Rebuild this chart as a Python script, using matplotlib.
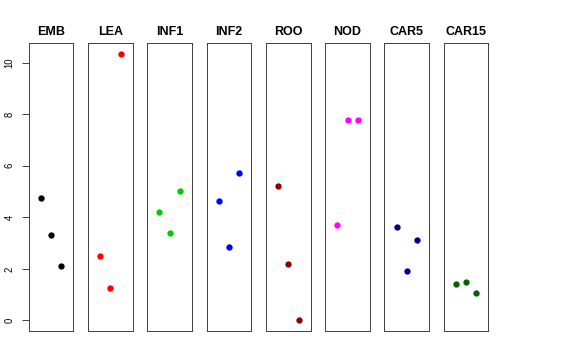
import matplotlib
matplotlib.use("Agg")
import matplotlib.pyplot as plt

plt.rcParams["font.family"] = ["Liberation Sans", "DejaVu Sans"]

# panel names, colours and the three values per panel
groups = ["EMB", "LEA", "INF1", "INF2", "ROO", "NOD", "CAR5", "CAR15"]
colors = ["black", "#FF0000", "#00CD00", "#0000FF", "#8B0000", "#FF00FF", "#00008B", "#006400"]
x_pos = [1, 2, 3]
emb = [4.76, 3.31, 2.11]
lea = [2.48, 1.25, 10.35]
inf1 = [4.19, 3.38, 5.02]
inf2 = [4.64, 2.83, 5.72]
roo = [5.21, 2.18, 0.0]
nod = [3.69, 7.78, 7.78]
car5 = [3.63, 1.90, 3.13]
car15 = [1.42, 1.47, 1.07]
values = [emb, lea, inf1, inf2, roo, nod, car5, car15]
y_ticks = [0, 2, 4, 6, 8, 10]

W, H = 576, 360
fig = plt.figure(figsize=(W / 72, H / 72), dpi=72)

left0, step, width = 28.7, 59.3, 44.7
top, bottom = 43.3, 331.0

for i, (name, col, vals) in enumerate(zip(groups, colors, values)):
    ax = fig.add_axes([(left0 + i * step) / W, 1 - bottom / H,
                       width / W, (bottom - top) / H])
    ax.scatter(x_pos, vals, s=40, color=col, linewidths=0, zorder=3)
    ax.set_xlim(-0.16, 4.16)
    ax.set_ylim(-0.414, 10.76)
    ax.set_xticks([])
    for sp in ax.spines.values():
        sp.set_color("#444444")
        sp.set_linewidth(1.0)
    ax.set_title(name, fontsize=12.5, fontweight="bold", pad=8)
    if i == 0:
        ax.set_yticks(y_ticks)
        ax.set_yticklabels([str(t) for t in y_ticks], rotation=90, va="center", fontsize=9.5)
        ax.tick_params(axis="y", length=7, width=1, color="#444444", pad=7)
    else:
        ax.set_yticks([])

fig.savefig("out.png", dpi=72)
